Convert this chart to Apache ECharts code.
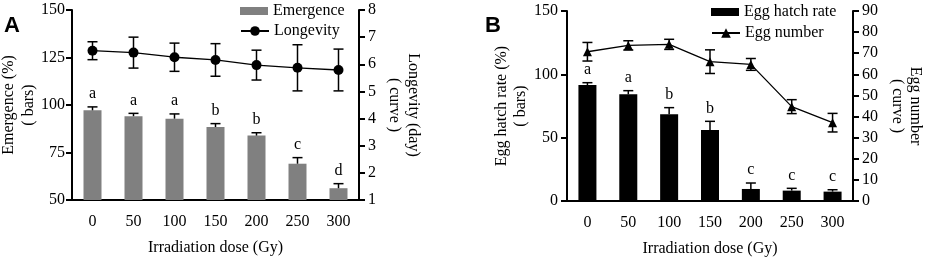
<!DOCTYPE html>
<html>
<head>
<meta charset="utf-8">
<script src="https://cdn.jsdelivr.net/npm/echarts@6/dist/echarts.min.js"></script>
<style>
  html, body { margin: 0; padding: 0; background: #fff; }
  #chart { width: 927px; height: 258px; }
</style>
</head>
<body>
<div id="chart"></div>
<script>
// doses on the x axis (both panels)
const doses = ["0", "50", "100", "150", "200", "250", "300"];

// panel A
const emergence = [97.2, 94.1, 92.8, 88.4, 83.9, 69.1, 56.2];
const emergenceErr = [1.8, 1.5, 2.5, 1.8, 1.5, 3.2, 2.4];
const emergenceLetters = ["a", "a", "a", "b", "b", "c", "d"];
const longevity = [6.5, 6.43, 6.26, 6.16, 5.97, 5.87, 5.79];
const longevitySd = [0.33, 0.57, 0.52, 0.6, 0.55, 0.85, 0.77];

// panel B
const hatchRate = [91.6, 84.2, 68.4, 56.0, 9.5, 8.2, 7.4];
const hatchErr = [1.8, 2.9, 5.3, 6.9, 4.7, 1.8, 1.5];
const hatchLetters = ["a", "a", "b", "b", "c", "c", "c"];
const eggNumber = [70.7, 73.7, 74.2, 66.0, 64.7, 44.7, 37.1];
const eggSd = [4.4, 2.2, 2.4, 5.6, 2.8, 3.3, 4.4];

const serif = "Liberation Serif";
const txt = { fontFamily: serif, fontSize: 16, color: "#000" };

function xAx(gridIndex) {
  return {
    type: "category", gridIndex, data: doses,
    axisLine: { lineStyle: { color: "#000", width: 2 } },
    axisTick: { alignWithLabel: true, length: 6, lineStyle: { width: 2, color: "#000" } },
    axisLabel: { ...txt, margin: 14 },
    name: "Irradiation dose (Gy)", nameLocation: "middle", nameGap: 40,
    nameTextStyle: txt
  };
}

function yAx(gridIndex, min, max, interval, position, name, gap, rotate, lh, margin) {
  return {
    type: "value", gridIndex, min, max, interval, position,
    axisLine: { show: true, lineStyle: { color: "#000", width: 2 } },
    axisTick: { show: true, length: 6, lineStyle: { width: 2, color: "#000" } },
    axisLabel: { ...txt, margin },
    splitLine: { show: false },
    name, nameLocation: "middle", nameGap: gap, nameRotate: rotate, nameMoveOverlap: false,
    nameTextStyle: { ...txt, lineHeight: lh }
  };
}

// legend entry, one per component so bar and line icons can differ in height
function leg(name, left, top, h, icon) {
  const item = icon ? { name, icon } : { name };
  return { left, top, padding: 0, itemWidth: 28, itemHeight: h, textStyle: txt, data: [item] };
}

// error bars, drawn through the axis scales
function errSeries(xi, yi, vals, errs, both, z) {
  return {
    type: "custom", xAxisIndex: xi, yAxisIndex: yi, z,
    silent: true,
    data: vals.map((v, i) => [i, v, errs[i]]),
    renderItem(params, api) {
      const x = api.value(0), v = api.value(1), e = api.value(2);
      const top = api.coord([x, v + e]);
      const bot = api.coord([x, both ? v - e : v]);
      const w = 5;
      const st = { stroke: "#000", lineWidth: 1.5 };
      const kids = [
        { type: "line", shape: { x1: top[0], y1: top[1], x2: bot[0], y2: bot[1] }, style: st },
        { type: "line", shape: { x1: top[0] - w, y1: top[1], x2: top[0] + w, y2: top[1] }, style: st }
      ];
      if (both) kids.push({ type: "line", shape: { x1: bot[0] - w, y1: bot[1], x2: bot[0] + w, y2: bot[1] }, style: st });
      return { type: "group", children: kids };
    }
  };
}

function letterSeries(xi, yi, vals, errs, letters) {
  return {
    type: "custom", xAxisIndex: xi, yAxisIndex: yi, silent: true,
    data: vals.map((v, i) => [i, v + errs[i]]),
    renderItem(params, api) {
      const p = api.coord([api.value(0), api.value(1)]);
      return {
        type: "text",
        style: {
          text: letters[params.dataIndex], x: p[0], y: p[1] - 5,
          align: "center", verticalAlign: "bottom",
          font: "16px " + serif, fill: "#000"
        }
      };
    }
  };
}

const chart = echarts.init(document.getElementById("chart"), null, { renderer: "canvas" });
chart.setOption({
  animation: false,
  title: [
    { text: "A", left: -1, top: 10, textStyle: { fontFamily: "Liberation Sans", fontWeight: "bold", fontSize: 22, color: "#000" } },
    { text: "B", left: 480, top: 10, textStyle: { fontFamily: "Liberation Sans", fontWeight: "bold", fontSize: 22, color: "#000" } }
  ],
  legend: [
    leg("Emergence", 240, 3, 8, "rect"),
    leg("Longevity", 240, 23, 12),
    leg("Egg hatch rate", 711, 4, 8, "rect"),
    leg("Egg number", 711, 25, 12)
  ],
  grid: [
    { left: 72, right: 568, top: 10, bottom: 58, outerBoundsMode: "none" },
    { left: 567, right: 74, top: 11, bottom: 57, outerBoundsMode: "none" }
  ],
  xAxis: [xAx(0), xAx(1)],
  yAxis: [
    yAx(0, 50, 150, 25, "left", "Emergence (%)\n( bars)", 33, 90, 20, 7),
    yAx(0, 1, 8, 1, "right", "Longevity (day)\n( curve )", 26, -90, 19, 9),
    yAx(1, 0, 150, 50, "left", "Egg hatch rate (%)\n( bars)", 37, 90, 19, 9),
    yAx(1, 0, 90, 10, "right", "Egg number\n( curve )", 35, -90, 18, 9)
  ],
  series: [
    { name: "Emergence", type: "bar", xAxisIndex: 0, yAxisIndex: 0, data: emergence, barWidth: 18,
      itemStyle: { color: "#808080" } },
    errSeries(0, 0, emergence, emergenceErr, false, 3),
    letterSeries(0, 0, emergence, emergenceErr, emergenceLetters),
    errSeries(0, 1, longevity, longevitySd, true, 3),
    { name: "Longevity", type: "line", xAxisIndex: 0, yAxisIndex: 1, data: longevity, z: 4,
      symbol: "circle", symbolSize: 10, lineStyle: { color: "#000", width: 1.3 }, itemStyle: { color: "#000" } },

    { name: "Egg hatch rate", type: "bar", xAxisIndex: 1, yAxisIndex: 2, data: hatchRate, barWidth: 18,
      itemStyle: { color: "#000" } },
    errSeries(1, 2, hatchRate, hatchErr, false, 3),
    letterSeries(1, 2, hatchRate, hatchErr, hatchLetters),
    errSeries(1, 3, eggNumber, eggSd, true, 3),
    { name: "Egg number", type: "line", xAxisIndex: 1, yAxisIndex: 3, data: eggNumber, z: 4,
      symbol: "triangle", symbolSize: 9, lineStyle: { color: "#000", width: 1.3 }, itemStyle: { color: "#000" } }
  ]
});
</script>
</body>
</html>
